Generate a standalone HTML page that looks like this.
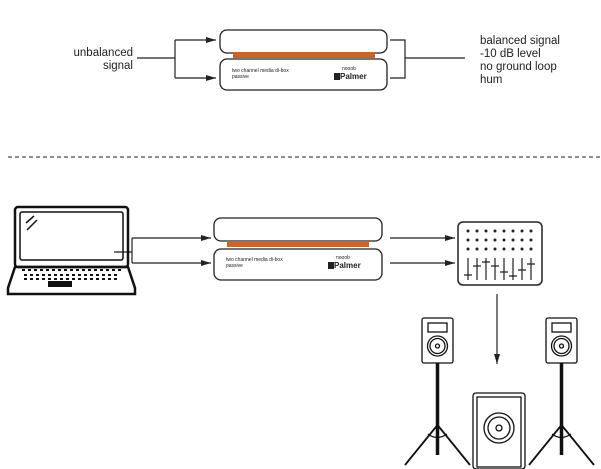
<!DOCTYPE html><html><head><style>body{margin:0;background:#fff}svg{display:block}text{font-family:"Liberation Sans",sans-serif}</style></head><body>
<svg width="601" height="469" viewBox="0 0 601 469" xmlns="http://www.w3.org/2000/svg">
<defs><marker id="a" markerWidth="10" markerHeight="8" refX="10" refY="4" orient="auto" markerUnits="userSpaceOnUse"><path d="M0,1 L10,4 L0,7 Z" fill="#222"/></marker></defs>
<g fill="#222" font-size="11.5">
<text x="133" y="56" text-anchor="end">unbalanced</text><text x="133" y="69" text-anchor="end">signal</text>
<text x="480" y="44">balanced signal</text><text x="480" y="57">-10 dB level</text><text x="480" y="70">no ground loop</text><text x="480" y="83">hum</text>
</g>
<g stroke="#222" stroke-width="1.2" fill="none">
<path d="M137 58H175M175 40V78M175 40H216" marker-end="url(#a)"/><path d="M175 78H216" marker-end="url(#a)"/>
<path d="M390 40H405V78H390M405 58H465"/>
<line x1="8" y1="157" x2="601" y2="157" stroke-dasharray="4,3" stroke-width="1"/>
<path d="M114 252H132M132 238V263M132 238H211" marker-end="url(#a)"/><path d="M132 263H211" marker-end="url(#a)"/>
<path d="M390 238H455" marker-end="url(#a)"/><path d="M390 263H455" marker-end="url(#a)"/>
<path d="M497 294V364" marker-end="url(#a)"/>
</g>
<g stroke="#222" stroke-width="1.3" fill="#fff">
<rect x="220" y="30" width="167" height="23" rx="7"/>
<rect x="233" y="52" width="142" height="6" fill="#c8652e" stroke="none"/>
<rect x="220" y="59" width="167" height="31" rx="7"/>
<rect x="214" y="218" width="168" height="23" rx="7"/>
<rect x="227" y="241" width="142" height="6" fill="#c8652e" stroke="none"/>
<rect x="214" y="249" width="168" height="31" rx="7"/>
</g>
<g font-size="5" fill="#222"><text x="232" y="72">two channel media di-box</text><text x="232" y="78">passive</text>
<text x="226" y="261">two channel media di-box</text><text x="226" y="267">passive</text>
<text x="342" y="70" font-size="5">nooob</text><text x="340" y="79" font-weight="bold" font-size="8">Palmer</text>
<text x="336" y="259" font-size="5">nooob</text><text x="334" y="268" font-weight="bold" font-size="8">Palmer</text></g>
<rect x="334" y="73" width="6" height="7" fill="#222"/><rect x="328" y="262" width="6" height="7" fill="#222"/>
<g stroke="#111" fill="none">
<rect x="15" y="207" width="113" height="60" rx="3" stroke-width="2.5"/>
<rect x="20" y="212" width="103" height="48" rx="2" stroke-width="1.5"/>
<path d="M15 267L8 288V294H135V288L128 267Z" stroke-width="2.5"/>
<path d="M26 223L34 216M27 230L37 220" stroke-width="1.5"/>
<path d="M22 270H122M24 275H120M24 279H120" stroke-width="2" stroke-dasharray="3,3"/>
</g>
<rect x="48" y="281" width="24" height="6" fill="#111"/>
<rect x="458" y="222" width="84" height="63" rx="5" stroke="#222" stroke-width="1.5" fill="#fff"/>
<g fill="#222">
<g id="r"><circle cx="468" cy="231" r="1.5"/><circle cx="477" cy="231" r="1.5"/><circle cx="486" cy="231" r="1.5"/><circle cx="495" cy="231" r="1.5"/><circle cx="504" cy="231" r="1.5"/><circle cx="513" cy="231" r="1.5"/><circle cx="522" cy="231" r="1.5"/><circle cx="531" cy="231" r="1.5"/></g>
<use href="#r" y="9"/><use href="#r" y="18"/></g>
<g stroke="#222" stroke-width="1.2">
<path d="M468 258V280M477 258V280M486 258V280M495 258V280M504 258V280M513 258V280M522 258V280M531 258V280"/>
<path d="M464 275H472M473 266H481M482 262H490M491 266H499M500 272H508M509 276H517M518 270H526M527 264H535"/>
</g>
<g stroke="#111" fill="#fff" stroke-width="1.3">
<g id="sp"><rect x="422" y="318" width="31" height="45" rx="2"/><rect x="428" y="323" width="19" height="9" fill="none"/><circle cx="437.5" cy="346" r="10"/><circle cx="437.5" cy="346" r="7.5"/><circle cx="437.5" cy="346" r="2"/>
<path d="M437.5 363V455" stroke-width="3.5"/><path d="M437.5 425L405 465M437.5 425L470 465" stroke-width="1.8" fill="none"/><path d="M428 434Q437 441 447 434" fill="none"/></g>
<use href="#sp" x="124"/>
<rect x="473" y="393" width="52" height="76" rx="3"/><rect x="477" y="397" width="44" height="70" fill="none"/>
<circle cx="499" cy="428" r="15"/><circle cx="499" cy="428" r="11"/><circle cx="499" cy="428" r="3"/>
</g>
</svg></body></html>
